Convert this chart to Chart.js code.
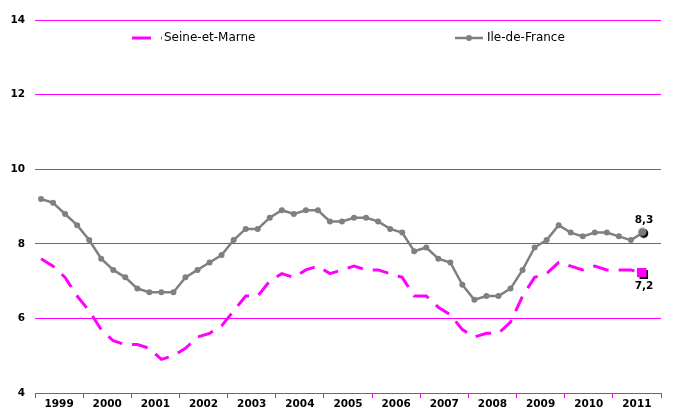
<!DOCTYPE html>
<html><head><meta charset="utf-8">
<script src="https://cdn.jsdelivr.net/npm/chart.js@4"></script>
<style>html,body{margin:0;padding:0;background:#fff;} canvas{display:block}</style>
</head><body>
<canvas id="c" width="673" height="410"></canvas>
<script>
// ---- data ----
const years = ['1999','2000','2001','2002','2003','2004','2005','2006','2007','2008','2009','2010','2011'];
const seriesNames = ['Seine-et-Marne', 'Ile-de-France'];
const seineEtMarne = [
  7.6, 7.4, 7.1, 6.6,
  6.2, 5.7, 5.4, 5.3,
  5.3, 5.2, 4.9, 5.0,
  5.2, 5.5, 5.6, 5.8,
  6.2, 6.6, 6.6, 7.0,
  7.2, 7.1, 7.3, 7.4,
  7.2, 7.3, 7.4, 7.3,
  7.3, 7.2, 7.1, 6.6,
  6.6, 6.3, 6.1, 5.7,
  5.5, 5.6, 5.6, 5.9,
  6.6, 7.1, 7.2, 7.5,
  7.4, 7.3, 7.4, 7.3,
  7.3, 7.3, 7.2
];
const ileDeFrance = [
  9.2, 9.1, 8.8, 8.5,
  8.1, 7.6, 7.3, 7.1,
  6.8, 6.7, 6.7, 6.7,
  7.1, 7.3, 7.5, 7.7,
  8.1, 8.4, 8.4, 8.7,
  8.9, 8.8, 8.9, 8.9,
  8.6, 8.6, 8.7, 8.7,
  8.6, 8.4, 8.3, 7.8,
  7.9, 7.6, 7.5, 6.9,
  6.5, 6.6, 6.6, 6.8,
  7.3, 7.9, 8.1, 8.5,
  8.3, 8.2, 8.3, 8.3,
  8.2, 8.1, 8.3
];
const yTicks = [4, 6, 8, 10, 12, 14];

// quarter categories derived from the years
const quarters = [];
years.forEach(y => { for (let q = 1; q <= 4; q++) quarters.push(y + ' T' + q); });

const MAGENTA = '#ff00ff';
const GREY = '#808080';
const TICK_FONT = { family: 'DejaVu Sans', size: 10.5, weight: 'bold' };

// end-point markers (with a dark shadow)
function makeSquareMarker() {
  const c = document.createElement('canvas'); c.width = 11; c.height = 11;
  const g = c.getContext('2d');
  g.fillStyle = '#000'; g.fillRect(2, 2, 9, 9);
  g.fillStyle = MAGENTA; g.fillRect(0, 0, 9, 9);
  return c;
}
function makeCircleMarker() {
  const c = document.createElement('canvas'); c.width = 12; c.height = 12;
  const g = c.getContext('2d');
  g.fillStyle = '#000'; g.beginPath(); g.arc(6.8, 6.8, 4.5, 0, Math.PI * 2); g.fill();
  g.fillStyle = '#7a7a7a'; g.beginPath(); g.arc(5.4, 5.4, 4.2, 0, Math.PI * 2); g.fill();
  return c;
}
const squareMarker = makeSquareMarker();
const circleMarker = makeCircleMarker();

const lastSEM = seineEtMarne.length - 1;
const lastIDF = ileDeFrance.length - 1;

// legend drawn inside the plot area
const legendPlugin = {
  id: 'innerLegend',
  afterDraw(chart) {
    const ctx = chart.ctx, a = chart.chartArea;
    const y = a.top + 18;
    ctx.save();
    // Seine-et-Marne
    ctx.strokeStyle = MAGENTA; ctx.lineWidth = 3; ctx.setLineDash([19, 10]);
    ctx.beginPath(); ctx.moveTo(a.left + 97, y); ctx.lineTo(a.left + 127, y); ctx.stroke();
    ctx.setLineDash([]);
    ctx.fillStyle = '#000'; ctx.font = '12px "DejaVu Sans"'; ctx.textBaseline = 'middle'; ctx.textAlign = 'left';
    ctx.fillText(chart.data.datasets[0].label, a.left + 129, y);
    // Ile-de-France
    ctx.strokeStyle = GREY; ctx.lineWidth = 2.5;
    ctx.beginPath(); ctx.moveTo(a.left + 420, y); ctx.lineTo(a.left + 448, y); ctx.stroke();
    ctx.fillStyle = GREY; ctx.beginPath(); ctx.arc(a.left + 434, y, 3, 0, Math.PI * 2); ctx.fill();
    ctx.fillStyle = '#000';
    ctx.fillText(chart.data.datasets[1].label, a.left + 452, y);
    ctx.restore();
  }
};

// last-value labels
const endLabelPlugin = {
  id: 'endLabels',
  afterDatasetsDraw(chart) {
    const ctx = chart.ctx;
    ctx.save();
    ctx.font = 'bold 10.5px "DejaVu Sans"';
    ctx.fillStyle = '#000';
    ctx.textAlign = 'center'; ctx.textBaseline = 'middle';
    chart.data.datasets.forEach((ds, di) => {
      const meta = chart.getDatasetMeta(di);
      const idx = ds.data.length - 1;
      const pt = meta.data[idx];
      const txt = ds.data[idx].toFixed(1).replace('.', ',');
      const dy = di === 1 ? -12 : 13;
      ctx.fillText(txt, pt.x + 1, pt.y + dy);
    });
    ctx.restore();
  }
};

new Chart(document.getElementById('c'), {
  type: 'line',
  data: {
    labels: quarters,
    datasets: [
      {
        label: seriesNames[0],
        data: seineEtMarne,
        borderColor: MAGENTA,
        borderWidth: 3,
        borderDash: [16, 10],
        tension: 0,
        pointStyle: c => c.dataIndex === lastSEM ? squareMarker : 'circle',
        pointRadius: c => c.dataIndex === lastSEM ? 5 : 0,
        pointBorderWidth: 0,
        pointBackgroundColor: MAGENTA,
        xAxisID: 'x', yAxisID: 'y'
      },
      {
        label: seriesNames[1],
        data: ileDeFrance,
        borderColor: GREY,
        borderWidth: 2.5,
        tension: 0,
        pointStyle: c => c.dataIndex === lastIDF ? circleMarker : 'circle',
        pointRadius: c => c.dataIndex === lastIDF ? 5 : 3,
        pointBorderWidth: 0,
        pointBackgroundColor: GREY,
        xAxisID: 'x', yAxisID: 'y'
      }
    ]
  },
  options: {
    responsive: false,
    animation: false,
    devicePixelRatio: 1,
    layout: { padding: { left: 0, right: 12, top: 20, bottom: 0 } },
    plugins: { legend: { display: false }, tooltip: { enabled: false } },
    scales: {
      x: {
        type: 'category',
        display: false,
        offset: true
      },
      x2: {
        type: 'category',
        labels: years,
        position: 'bottom',
        offset: true,
        grid: { offset: true, drawOnChartArea: false, color: MAGENTA, tickLength: 5, lineWidth: 1 },
        border: { display: true, color: MAGENTA, width: 1 },
        ticks: { font: TICK_FONT, color: '#000', padding: 0, maxRotation: 0, autoSkip: false },
        afterFit: s => { s.height = 17; }
      },
      y: {
        min: yTicks[0],
        max: yTicks[yTicks.length - 1],
        afterBuildTicks: s => { s.ticks = yTicks.map(v => ({ value: v })); },
        grid: { color: MAGENTA, drawTicks: false, lineWidth: 1 },
        border: { display: false },
        ticks: { font: TICK_FONT, color: '#000', padding: 10 },
        afterFit: s => { s.width = 35; }
      }
    }
  },
  plugins: [legendPlugin, endLabelPlugin]
});
</script>
</body></html>
